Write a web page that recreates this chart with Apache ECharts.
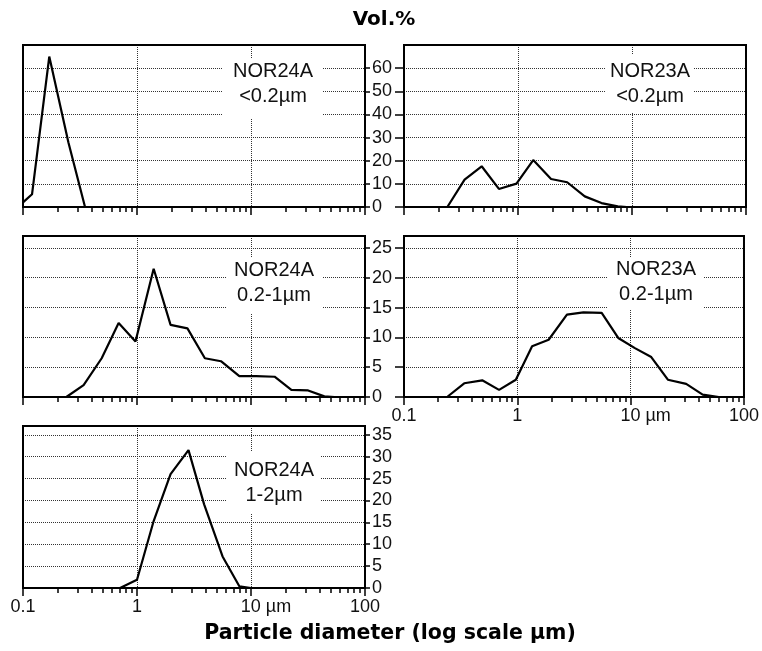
<!DOCTYPE html>
<html>
<head>
<meta charset="utf-8">
<script src="https://cdn.jsdelivr.net/npm/echarts@6.0.0/dist/echarts.min.js"></script>
<style>
  html, body { margin: 0; padding: 0; background: #fff; }
  #chart { width: 762px; height: 651px; }
</style>
</head>
<body>
<div id="chart"></div>
<script>
// 粒径 (µm) / 体积百分比, 每个面板一组
const nor24aFineDiam = [0.1, 0.12, 0.17, 0.25, 0.35];
const nor24aFineVol = [2, 5.5, 65, 28, 0];

const nor23aFineDiam = [0.24, 0.34, 0.48, 0.68, 0.97, 1.36, 1.95, 2.7, 3.85, 5.4, 7.5, 9];
const nor23aFineVol = [0, 11.8, 17.6, 7.8, 10.1, 20.3, 12.1, 10.7, 4.6, 1.7, 0.3, 0];

const nor24aMidDiam = [0.24, 0.34, 0.49, 0.69, 0.97, 1.4, 1.97, 2.77, 3.94, 5.45, 7.9, 11.1, 16.1, 22.6, 31.7, 44, 54];
const nor24aMidVol = [0, 2, 6.5, 12.4, 9.3, 21.5, 12.1, 11.5, 6.5, 6.0, 3.5, 3.5, 3.4, 1.2, 1.1, 0.1, 0];

const nor23aMidDiam = [0.24, 0.34, 0.49, 0.69, 0.97, 1.35, 1.89, 2.74, 3.83, 5.55, 7.77, 10.9, 15.2, 21.3, 30.9, 43.2, 60];
const nor23aMidVol = [0, 2.3, 2.8, 1.2, 2.9, 8.5, 9.6, 13.8, 14.2, 14.1, 9.9, 8.2, 6.7, 2.9, 2.2, 0.4, 0];

const nor24aCoarseDiam = [0.71, 1.0, 1.4, 1.97, 2.83, 3.88, 5.63, 7.9, 10];
const nor24aCoarseVol = [0, 1.9, 15.3, 26, 31.5, 19.1, 7.2, 0.4, 0];

// Y轴刻度
const yTicksTop = [0, 10, 20, 30, 40, 50, 60];
const yTicksMid = [0, 5, 10, 15, 20, 25];
const yTicksBottom = [0, 5, 10, 15, 20, 25, 30, 35];

const titleText = 'Vol.%';
const xTitleText = 'Particle diameter (log scale µm)';

// 面板: 数据 + 布局
const panels = [
  { diam: nor24aFineDiam, vol: nor24aFineVol, label: 'NOR24A\n<0.2µm', yMax: 70, yStep: 10, yTicks: yTicksTop,
    left: 23, top: 45, height: 162, side: 'right', xLabels: false, box: [223, 58, 99, 60], txt: [273, 84] },
  { diam: nor23aFineDiam, vol: nor23aFineVol, label: 'NOR23A\n<0.2µm', yMax: 70, yStep: 10, yTicks: yTicksTop,
    left: 404, top: 45, height: 162, side: 'left', xLabels: false, box: [605, 55, 89, 58], txt: [650, 84] },
  { diam: nor24aMidDiam, vol: nor24aMidVol, label: 'NOR24A\n0.2-1µm', yMax: 27, yStep: 5, yTicks: yTicksMid,
    left: 23, top: 236, height: 161, side: 'right', xLabels: false, box: [227, 257, 95, 56], txt: [274, 283] },
  { diam: nor23aMidDiam, vol: nor23aMidVol, label: 'NOR23A\n0.2-1µm', yMax: 27, yStep: 5, yTicks: yTicksMid,
    left: 404, top: 236, height: 161, side: 'left', xLabels: true, box: [608, 258, 95, 52], txt: [656, 282] },
  { diam: nor24aCoarseDiam, vol: nor24aCoarseVol, label: 'NOR24A\n1-2µm', yMax: 37, yStep: 5, yTicks: yTicksBottom,
    left: 23, top: 426, height: 162, side: 'right', xLabels: true, box: [227, 452, 94, 62], txt: [274, 483] }
];

// 对数轴次刻度 (2..9 倍)
const minorTicks = [];
for (let k = -1; k < 2; k++) {
  for (let m = 2; m < 10; m++) minorTicks.push(Math.log10(m * Math.pow(10, k)));
}

const labelFont = 'Liberation Sans, Arial, sans-serif';
const dotted = { color: '#333', width: 1, type: [1, 1] };
const grids = [], xAxes = [], yAxes = [], series = [], graphics = [];

panels.forEach((p, i) => {
  grids.push({
    left: p.left, top: p.top, width: 342, height: p.height,
    show: true, borderColor: '#000', borderWidth: 2, backgroundColor: 'transparent', z: 10
  });
  xAxes.push({
    type: 'log', logBase: 10, gridIndex: i, min: 0.1, max: 100, position: 'bottom',
    axisLine: { show: false, onZero: false },
    axisTick: { show: true, length: 8, lineStyle: { color: '#000', width: 1.5 } },
    axisLabel: {
      show: p.xLabels, fontSize: 18, fontFamily: labelFont, color: '#111', margin: 10,
      formatter: function(value) {
        const v = Math.round(value * 1000) / 1000;
        return v === 10 ? '{pad|}10 µm' : String(v);
      },
      rich: { pad: { width: 30 } }
    },
    splitLine: { show: true, lineStyle: dotted }
  });
  xAxes.push({
    type: 'value', gridIndex: i, min: -1, max: 2, position: 'bottom',
    axisLine: { show: false, onZero: false }, axisLabel: { show: false }, splitLine: { show: false },
    axisTick: { show: true, customValues: minorTicks, length: 5, lineStyle: { color: '#000', width: 1.5 } }
  });
  yAxes.push({
    type: 'value', gridIndex: i, min: 0, max: p.yMax, interval: p.yStep, position: p.side,
    axisLine: { show: false, onZero: false },
    axisTick: { show: true, customValues: p.yTicks, length: p.side === 'right' ? 5 : 9, lineStyle: { color: '#000', width: 1.5 } },
    axisLabel: {
      show: p.side === 'right', customValues: p.yTicks, fontSize: 18, fontFamily: labelFont, color: '#111', margin: 7
    },
    splitLine: { show: true, lineStyle: dotted }
  });
  series.push({
    type: 'line', xAxisIndex: 2 * i, yAxisIndex: i,
    data: p.diam.map((d, k) => [d, p.vol[k]]),
    symbol: 'none', silent: true, z: 3,
    lineStyle: { color: '#000', width: 2.2 }
  });
  graphics.push({
    type: 'rect', z: 5, silent: true,
    shape: { x: p.box[0], y: p.box[1], width: p.box[2], height: p.box[3] },
    style: { fill: '#fff' }
  });
  graphics.push({
    type: 'text', z: 6, silent: true, x: p.txt[0], y: p.txt[1],
    style: {
      text: p.label, font: '20px ' + labelFont, fill: '#111',
      textAlign: 'center', textVerticalAlign: 'middle', lineHeight: 25
    }
  });
});

graphics.push({
  type: 'text', silent: true, x: 384, y: 20,
  style: { text: titleText, font: 'bold 20px "DejaVu Sans", sans-serif', fill: '#000', textAlign: 'center', textVerticalAlign: 'middle' }
});
graphics.push({
  type: 'text', silent: true, x: 390, y: 634,
  style: { text: xTitleText, font: 'bold 20.5px "DejaVu Sans", sans-serif', fill: '#000', textAlign: 'center', textVerticalAlign: 'middle' }
});

const chart = echarts.init(document.getElementById('chart'), null, { renderer: 'canvas' });
chart.setOption({
  animation: false,
  backgroundColor: '#fff',
  grid: grids,
  xAxis: xAxes,
  yAxis: yAxes,
  series: series,
  graphic: graphics
});
</script>
</body>
</html>
